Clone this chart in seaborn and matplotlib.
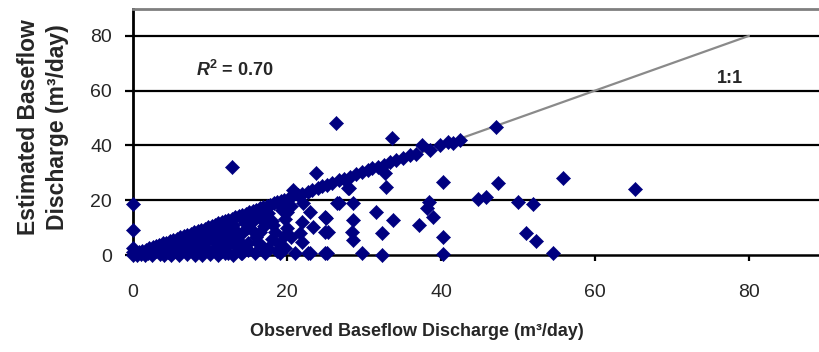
import matplotlib
matplotlib.use("Agg")
import matplotlib.pyplot as plt
import seaborn as sns
import pandas as pd

# Points that sit on (or just around) the 1:1 line
line_obs = [0.3, 0.8, 1.2, 1.7, 2.1, 2.6, 3.0, 3.4, 3.9, 4.3,
            4.8, 5.2, 5.7, 6.1, 6.6, 7.0, 7.5, 7.9, 8.4, 8.8,
            9.3, 9.7, 10.2, 10.6, 11.1, 11.5, 12.0, 12.4, 12.9, 13.3,
            13.8, 14.2, 14.7, 15.1, 15.6, 16.0, 16.5, 16.9, 17.4, 17.8,
            18.3, 18.7, 19.2, 19.6, 20.1, 20.7, 21.4, 22.0, 22.7, 23.3,
            24.0, 24.6, 25.2, 25.9, 26.7, 27.4, 28.2, 29.0, 29.7, 30.5,
            31.0, 31.8, 32.6, 33.4, 34.2, 35.1, 36.0, 36.7, 37.5, 38.6,
            39.9, 40.9, 41.6, 42.5, 47.2]
line_est = [0.6, 1.0, 1.5, 1.9, 2.4, 2.8, 3.3, 3.7, 4.2, 4.5,
            5.1, 5.5, 6.0, 6.4, 6.9, 7.3, 7.8, 8.3, 8.7, 9.2,
            9.6, 10.1, 10.5, 11.0, 11.5, 11.9, 12.4, 12.8, 13.3, 13.7,
            14.2, 14.7, 15.1, 15.6, 16.0, 16.5, 17.0, 17.4, 17.9, 18.3,
            18.8, 19.3, 19.7, 20.2, 20.6, 21.4, 22.0, 22.4, 23.1, 23.8,
            24.4, 25.1, 25.5, 26.3, 27.4, 27.8, 28.6, 29.4, 30.4, 30.9,
            31.6, 32.2, 32.9, 34.0, 34.6, 35.5, 36.5, 36.9, 40.1, 38.3,
            40.1, 41.4, 40.8, 42.0, 46.8]

# Under-estimated sites (below the 1:1 line)
low_obs = [0, 0, 0, 0.5, 1, 1.5, 2, 2.5, 3, 3.5, 4, 4,
           4.5, 5, 5, 5.5, 6, 6, 6.5, 7, 7, 7.5,
           8, 8, 8.5, 8.5, 9, 9, 9.5, 9.5, 10, 10,
           10.5, 10.5, 11, 11, 11, 11.5, 12, 12, 12, 12.5,
           12.5, 13, 13, 13.2, 13.7, 14, 14, 14.2, 14.6, 14.5,
           15, 15.4, 15.8, 15.5, 16, 16.3, 16.5, 17.1, 17, 17.5,
           17.5, 18, 18, 18.5, 19.1, 19.3, 19.7, 19, 20, 20,
           20.5, 21, 21.7, 21.9, 22, 22.1, 22.7, 23, 23.4, 23,
           24.9, 24.9, 24.9, 25.1, 25.3, 25.2, 26.5, 26.7, 28.6, 27.9,
           28, 28.6, 28.4, 28.6, 29.7, 31.6, 32.9, 32.7, 33.8, 32.3,
           32.3, 37.1, 38.4, 38.2, 39, 40.3, 40.3, 40.3, 44.8, 45.9,
           47.4, 50, 52, 55.9, 65.2, 51.1, 52.3, 54.6,
           11.5, 13.5, 15, 16.5, 18.7, 19.6, 12.3, 14.8, 17.5, 20.5,
           6.8, 8.2, 9.8, 10.8, 11.8, 13.4, 15.2, 16.8, 18.2, 19.8]
low_est = [0, 1.2, 2.5, 0, 0.3, 0, 0.8, 0, 1.5, 0.3, 0, 2.2,
           1, 0, 2.8, 1.5, 0, 3.6, 2, 0.5, 4.5, 2.8,
           0, 5.2, 1.5, 3.8, 0, 6.2, 2.5, 4.6, 0.3, 7.2,
           1.8, 5.2, 0, 3.5, 8.5, 6.5, 0.6, 2.5, 9.5, 4.5,
           7.5, 0, 10.8, 9.1, 5.5, 0.8, 7.8, 0.7, 2.8, 11.8,
           4.2, 12.2, 0.7, 9.2, 6.5, 4.3, 13.5, 0.7, 10.5, 2.5,
           15.2, 6, 12.5, 8.5, 0.7, 16.4, 13, 4, 15.8, 10,
           6.5, 0.7, 8, 4.9, 12, 18.9, 0.7, 15.8, 10.3, 0.8,
           14, 8.5, 0.7, 13.4, 8.5, 0.8, 18.9, 18.9, 18.9, 24.5,
           24.3, 12.8, 8.5, 5.5, 0.6, 15.8, 24.7, 29.9, 12.8, 7.9,
           0, 10.9, 19.5, 17.2, 14, 26.8, 6.7, 0.5, 20.3, 21.3,
           26.4, 19.5, 18.6, 28.0, 24.0, 8.1, 5.2, 0.6,
           1.5, 3, 1.8, 8.3, 1.5, 7, 0.7, 9.8, 12.8, 18,
           5.8, 3.2, 8.4, 2.6, 10.2, 6.8, 11.6, 3.2, 10.8, 2.6]

# Over-estimated sites (well above the 1:1 line)
high_obs = [0, 0, 12.8, 20.8, 23.8, 26.4, 33.6]
high_est = [9.1, 18.6, 32.0, 23.7, 29.8, 48.1, 42.6]

one_to_one = [0, 80]
axis_ticks = [0, 20, 40, 60, 80]

df = pd.DataFrame({
    "observed": line_obs + low_obs + high_obs,
    "estimated": line_est + low_est + high_est,
})
ref = pd.DataFrame({"x": one_to_one, "y": one_to_one})

sns.set_theme(style="white")
plt.rcParams["font.family"] = ["Liberation Sans", "DejaVu Sans"]
plt.rcParams["mathtext.fontset"] = "custom"
plt.rcParams["mathtext.rm"] = "Liberation Sans"
plt.rcParams["mathtext.it"] = "Liberation Sans:italic"
plt.rcParams["mathtext.bf"] = "Liberation Sans:bold"
plt.rcParams["mathtext.bfit"] = "Liberation Sans:bold:italic"

fig = plt.figure(figsize=(8.19, 3.52), dpi=100)
ax = fig.add_axes([133 / 819, 97 / 352, 686 / 819, 246 / 352])

navy = "#000080"
sns.lineplot(data=ref, x="x", y="y", ax=ax, color="#8a8a8a", lw=1.6, zorder=2)
sns.scatterplot(data=df, x="observed", y="estimated", ax=ax, marker="D",
                s=52, color=navy, edgecolor=navy, linewidth=0.4,
                clip_on=False, zorder=3, legend=False)

ax.set_xlim(0, 89.1)
ax.set_ylim(0, 89.8)
ax.set_xticks(axis_ticks)
ax.set_yticks(axis_ticks)
ax.set_xlabel("")
ax.set_ylabel("")

for y in axis_ticks[1:]:
    ax.axhline(y, color="black", lw=1.6, zorder=1)

ax.spines["right"].set_visible(False)
ax.spines["top"].set_color("#7f7f7f")
ax.spines["top"].set_linewidth(2)
ax.spines["left"].set_color("black")
ax.spines["left"].set_linewidth(2)
ax.spines["bottom"].set_color("black")
ax.spines["bottom"].set_linewidth(1.8)

ax.tick_params(axis="y", direction="out", length=6, width=1.6, color="black",
               pad=9, labelsize=14, left=True)
ax.tick_params(axis="x", direction="out", length=4, width=1.6, color="black",
               pad=17, labelsize=14, bottom=True)

ax.text(13.2, 67.5, r"$\mathbfit{R}^{\mathbf{2}}$" + " = 0.70", fontsize=13,
        fontweight="bold", ha="center", va="center")
ax.text(77.5, 64.6, "1:1", fontsize=13, fontweight="bold",
        ha="center", va="center")

fig.text(417 / 819, 1 - 331 / 352, "Observed Baseflow Discharge (m³/day)",
         fontsize=13, fontweight="bold", ha="center", va="center")
fig.text(43 / 819, 1 - 127 / 352, "Estimated Baseflow\nDischarge (m³/day)",
         fontsize=16.5, fontweight="bold", rotation=90, ha="center",
         va="center", multialignment="center", linespacing=1.35)

fig.savefig("out.png", dpi=100)
